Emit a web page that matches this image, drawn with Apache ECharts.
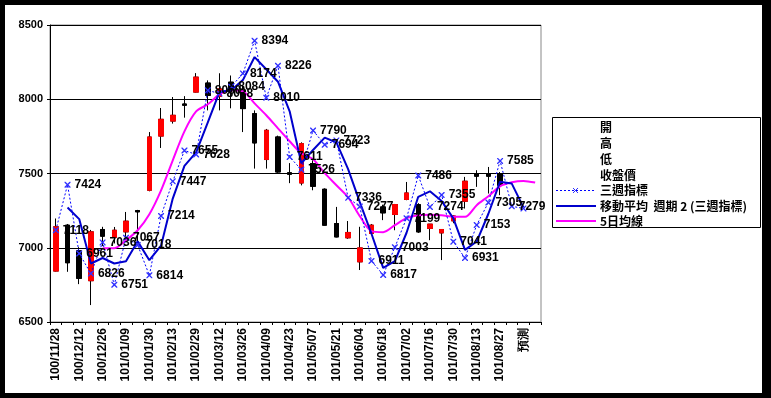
<!DOCTYPE html>
<html>
<head>
<meta charset="utf-8">
<script src="https://cdn.jsdelivr.net/npm/echarts@6/dist/echarts.min.js"></script>
<style>
html, body { margin: 0; padding: 0; background: #000; }
#chart { width: 771px; height: 398px; }
</style>
</head>
<body>
<div id="chart"></div>
<script>
// weekly categories (labels shown every other week)
const dates = [
  '100/11/28', '100/12/05', '100/12/12', '100/12/19', '100/12/26', '101/01/02',
  '101/01/09', '101/01/16', '101/01/30', '101/02/06', '101/02/13', '101/02/20',
  '101/02/29', '101/03/05', '101/03/12', '101/03/19', '101/03/26', '101/04/02',
  '101/04/09', '101/04/16', '101/04/23', '101/04/30', '101/05/07', '101/05/14',
  '101/05/21', '101/05/28', '101/06/04', '101/06/11', '101/06/18', '101/06/25',
  '101/07/02', '101/07/09', '101/07/16', '101/07/23', '101/07/30', '101/08/06',
  '101/08/13', '101/08/20', '101/08/27', '101/09/03', '預測', ''
];

// 開 / 收盤價 / 低 / 高
const openPx = [
  6843, 7152, 6979, 6778, 7123, 7069, 7107, 7250, 7387, 7752, 7853, 7968,
  8048, 8109, 8020, 8115, 8060, 7903, 7594, 7746, 7505, 7436, 7567, 7394,
  7163, 7067, 6905, 7096, 7275, 7224, 7325, 7290, 7130, 7100, 7181, 7313,
  7495, 7495, 7500, null, null, null
];
const closePx = [
  7141, 6899, 6794, 7107, 7078, 7118, 7179, 7242, 7746, 7865, 7892, 7960,
  8149, 8026, 8070, 8060, 7937, 7706, 7791, 7510, 7495, 7701, 7414, 7152,
  7073, 7103, 6999, 7152, 7235, 7291, 7369, 7107, 7159, 7123, 7214, 7448,
  7482, 7482, 7421, null, null, null
];
const lowPx = [
  6840, 6838, 6755, 6614, 7011, 7029, 7051, 7040, 7380, 7672, 7836, 7876,
  8045, 7925, 7925, 7939, 7779, 7533, 7533, 7505, 7435, 7420, 7387, 7150,
  7070, 7060, 6850, 7090, 7186, 7118, 7320, 7100, 7051, 6917, 7165, 7264,
  7410, 7365, 7354, null, null, null
];
const highPx = [
  7197, 7160, 7004, 7120, 7141, 7140, 7241, 7255, 7779, 7941, 8015, 8021,
  8176, 8127, 8175, 8160, 8093, 7925, 7800, 7755, 7570, 7710, 7589, 7400,
  7275, 7180, 7141, 7160, 7290, 7295, 7443, 7300, 7160, 7125, 7220, 7477,
  7522, 7544, 7510, null, null, null
];

// 三週指標
const threeWeek = [
  7118, 7424, 6961, 6826, 7036, 6751, 7067, 7018, 6814, 7214, 7447, 7655,
  7628, 8060, 8038, 8084, 8174, 8394, 8010, 8226, 7611, 7526, 7790, 7694,
  7723, 7336, 7277, 6911, 6817, 7003, 7199, 7486, 7274, 7355, 7041, 6931,
  7153, 7305, 7585, 7279, 7265, null
];

// 移動平均 週期 2 (三週指標)
const threeWeekMa2 = [
  null, 7271, 7193, 6894, 6931, 6894, 6909, 7043, 6916, 7014, 7331, 7551,
  7642, 7844, 8049, 8061, 8129, 8284, 8202, 8118, 7919, 7569, 7658, 7742,
  7709, 7530, 7307, 7094, 6864, 6910, 7101, 7343, 7380, 7315, 7198, 6986,
  7042, 7229, 7445, 7432, 7272, null
];

// 5日均線
const ma5 = [
  null, null, null, null, 6997, 6997, 7051, 7118, 7226, 7387, 7589, 7784,
  7918, 7966, 8033, 8060, 8053, 7972, 7892, 7804, 7717, 7636, 7596, 7502,
  7421, 7340, 7213, 7112, 7105, 7152, 7199, 7219, 7223, 7219, 7209, 7208,
  7287, 7347, 7414, 7441, 7450, 7439
];

const yMin = 6500;
const yMax = 8500;
const yStep = 500;

const labelFont = '"Liberation Sans", Arial, sans-serif';
const cjkFont = '"Noto Sans CJK TC", "Noto Sans CJK SC", sans-serif';
const xMark = 'path://M0,0L1.6,0L5,3.4L8.4,0L10,0L10,1.6L6.6,5L10,8.4L10,10L8.4,10L5,6.6L1.6,10L0,10L0,8.4L3.4,5L0,1.6Z';

const full = dates.map((_, i) =>
  openPx[i] == null ? '-' : [openPx[i], closePx[i], lowPx[i], highPx[i]]);
// bodies only (drawn over the black high-low lines)
const bodies = dates.map((_, i) =>
  openPx[i] == null ? '-' : [openPx[i], closePx[i],
    Math.min(openPx[i], closePx[i]), Math.max(openPx[i], closePx[i])]);

const chart = echarts.init(document.getElementById('chart'));

chart.setOption({
  animation: false,
  backgroundColor: '#000',
  grid: {
    left: 50, top: 25, width: 491, height: 297,
    show: true, borderColor: '#888', borderWidth: 1
  },
  xAxis: {
    type: 'category',
    data: dates,
    boundaryGap: true,
    axisLine: { lineStyle: { color: '#000', width: 1 } },
    axisTick: { show: true, interval: 0, length: 3, lineStyle: { color: '#000' } },
    axisLabel: {
      interval: 1, rotate: 90, margin: 6,
      fontSize: 12, fontWeight: 'bold', color: '#000', fontFamily: labelFont
    },
    splitLine: { show: false }
  },
  yAxis: {
    type: 'value',
    min: yMin, max: yMax, interval: yStep,
    axisLine: { show: true, lineStyle: { color: '#000' } },
    axisTick: { show: true, length: 3, lineStyle: { color: '#000' } },
    axisLabel: {
      margin: 7, fontSize: 11, fontWeight: 'bold', color: '#000', fontFamily: labelFont,
      formatter: v => String(v)
    },
    splitLine: { show: true, lineStyle: { color: '#000', width: 1 } }
  },
  graphic: [
    { type: 'rect', z: -100, shape: { x: 5, y: 5, width: 757, height: 388 }, style: { fill: '#fff' } },
    { type: 'rect', shape: { x: 552.5, y: 117.5, width: 208, height: 110 }, style: { fill: '#fff', stroke: '#000', lineWidth: 1 } },
    { type: 'text', style: { text: '開', x: 600, y: 127, font: 'bold 12px ' + cjkFont, fill: '#000', verticalAlign: 'middle' } },
    { type: 'text', style: { text: '高', x: 600, y: 143, font: 'bold 12px ' + cjkFont, fill: '#000', verticalAlign: 'middle' } },
    { type: 'text', style: { text: '低', x: 600, y: 159, font: 'bold 12px ' + cjkFont, fill: '#000', verticalAlign: 'middle' } },
    { type: 'text', style: { text: '收盤價', x: 600, y: 175, font: 'bold 12px ' + cjkFont, fill: '#000', verticalAlign: 'middle' } },
    { type: 'text', style: { text: '三週指標', x: 600, y: 190, font: 'bold 12px ' + cjkFont, fill: '#000', verticalAlign: 'middle' } },
    { type: 'text', style: { text: '移動平均  週期 2 (三週指標)', x: 600, y: 206, font: 'bold 12px ' + cjkFont, fill: '#000', verticalAlign: 'middle' } },
    { type: 'text', style: { text: '5日均線', x: 600, y: 221, font: 'bold 12px ' + cjkFont, fill: '#000', verticalAlign: 'middle' } },
    { type: 'line', shape: { x1: 556, y1: 190.5, x2: 596, y2: 190.5 }, style: { stroke: '#0000FF', lineWidth: 1, lineDash: [2, 2] } },
    { type: 'line', shape: { x1: 573, y1: 188, x2: 578, y2: 193 }, style: { stroke: '#3030FF', lineWidth: 1 } },
    { type: 'line', shape: { x1: 573, y1: 193, x2: 578, y2: 188 }, style: { stroke: '#3030FF', lineWidth: 1 } },
    { type: 'line', shape: { x1: 556, y1: 206, x2: 596, y2: 206 }, style: { stroke: '#0000CC', lineWidth: 2 } },
    { type: 'line', shape: { x1: 556, y1: 221, x2: 596, y2: 221 }, style: { stroke: '#FF00FF', lineWidth: 2 } }
  ],
  series: [
    {
      name: '高低',
      type: 'candlestick',
      data: full,
      barWidth: 5,
      z: 2,
      itemStyle: { color: '#000', color0: '#000', borderColor: '#000', borderColor0: '#000', borderWidth: 1 }
    },
    {
      name: '收盤價',
      type: 'candlestick',
      data: bodies,
      barWidth: 5,
      z: 3,
      itemStyle: { color: '#FF0000', color0: '#000', borderColor: '#FF0000', borderColor0: '#000', borderWidth: 1 }
    },
    {
      name: '5日均線',
      type: 'line',
      data: ma5,
      smooth: 0.3,
      symbol: 'none',
      z: 4,
      lineStyle: { color: '#FF00FF', width: 2 }
    },
    {
      name: '移動平均 週期 2 (三週指標)',
      type: 'line',
      data: threeWeekMa2,
      symbol: 'none',
      z: 5,
      lineStyle: { color: '#0000CC', width: 2 }
    },
    {
      name: '三週指標',
      type: 'line',
      data: threeWeek.map((v, i) => i === 40 ? { value: v, label: { show: false } } : v),
      symbol: xMark,
      symbolSize: 6,
      z: 6,
      lineStyle: { color: '#0000FF', width: 1, type: [2, 2] },
      itemStyle: { color: '#3030FF' },
      label: {
        show: true, position: 'right', distance: 4,
        fontSize: 12, fontWeight: 'bold', color: '#000', fontFamily: labelFont
      }
    }
  ]
});
</script>
</body>
</html>
